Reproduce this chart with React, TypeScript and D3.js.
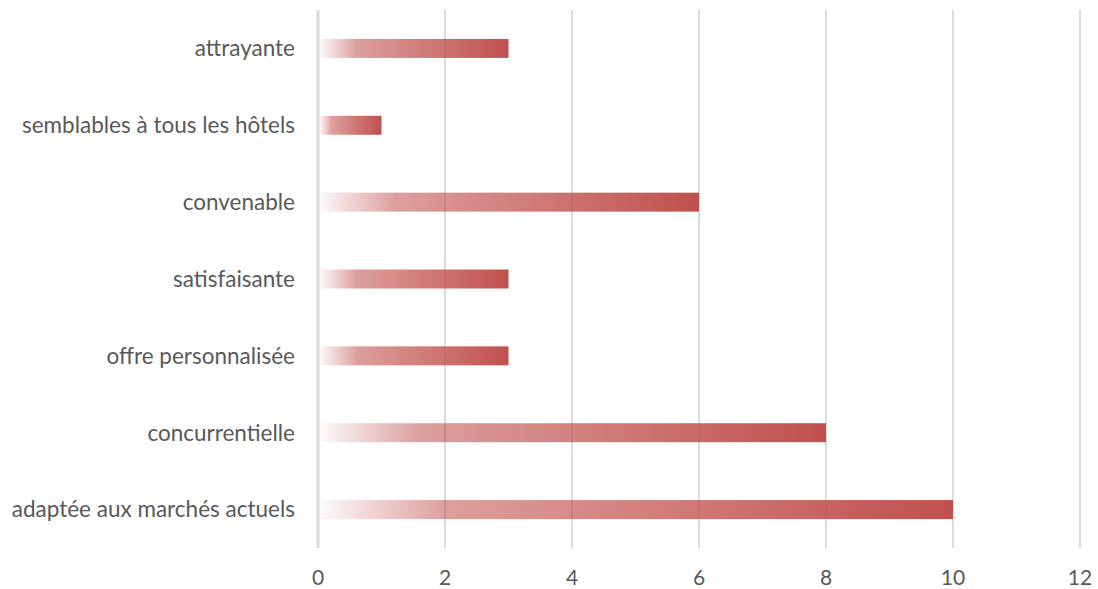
import React from "react";
import * as d3 from "d3";

const categories = [
  "attrayante",
  "semblables à tous les hôtels",
  "convenable",
  "satisfaisante",
  "offre personnalisée",
  "concurrentielle",
  "adaptée aux marchés actuels",
];
const values = [3, 1, 6, 3, 3, 8, 10];
const ticks = [0, 2, 4, 6, 8, 10, 12];

const W = 1098;
const H = 589;
const margin = { left: 318, right: 18, top: 10, bottom: 41 };

export default function App() {
  const x = d3.scaleLinear().domain([0, 12]).range([margin.left, W - margin.right]);
  const y = d3
    .scaleBand<string>()
    .domain(categories)
    .range([margin.top, H - margin.bottom])
    .paddingInner(0.75)
    .paddingOuter(0.375);
  const barH = 19;
  const font = "Lato, 'Open Sans', sans-serif";
  return (
    <svg
      width={W}
      height={H}
      style={{ position: "absolute", left: 0, top: 0, background: "#fff" }}
    >
      <defs>
        <linearGradient id="barGrad" x1="0" y1="0" x2="1" y2="0">
          <stop offset="0" stopColor="#c0504d" stopOpacity={0.03} />
          <stop offset="0.2" stopColor="#c0504d" stopOpacity={0.55} />
          <stop offset="1" stopColor="#c0504d" stopOpacity={1} />
        </linearGradient>
      </defs>
      {ticks.map((t) => (
        <line
          key={t}
          x1={x(t)}
          x2={x(t)}
          y1={margin.top}
          y2={H - margin.bottom}
          stroke={t === 0 ? "#d9d9d9" : "#d0d0d0"}
          strokeWidth={t === 0 ? 3 : 1.5}
        />
      ))}
      {categories.map((c, i) => {
        const cy = (y(c) as number) + y.bandwidth() / 2;
        return (
          <g key={c}>
            <rect
              x={x(0) + 1.5}
              y={cy - barH / 2}
              width={x(values[i]) - x(0) - 1.5}
              height={barH}
              fill="url(#barGrad)"
            />
            <text
              x={295}
              y={cy}
              dy="0.35em"
              textAnchor="end"
              fontFamily={font}
              fontSize={22.5}
              fill="#595959"
            >
              {c}
            </text>
          </g>
        );
      })}
      {ticks.map((t) => (
        <text
          key={"l" + t}
          x={x(t)}
          y={585}
          textAnchor="middle"
          fontFamily={font}
          fontSize={21}
          fill="#595959"
        >
          {t}
        </text>
      ))}
    </svg>
  );
}
